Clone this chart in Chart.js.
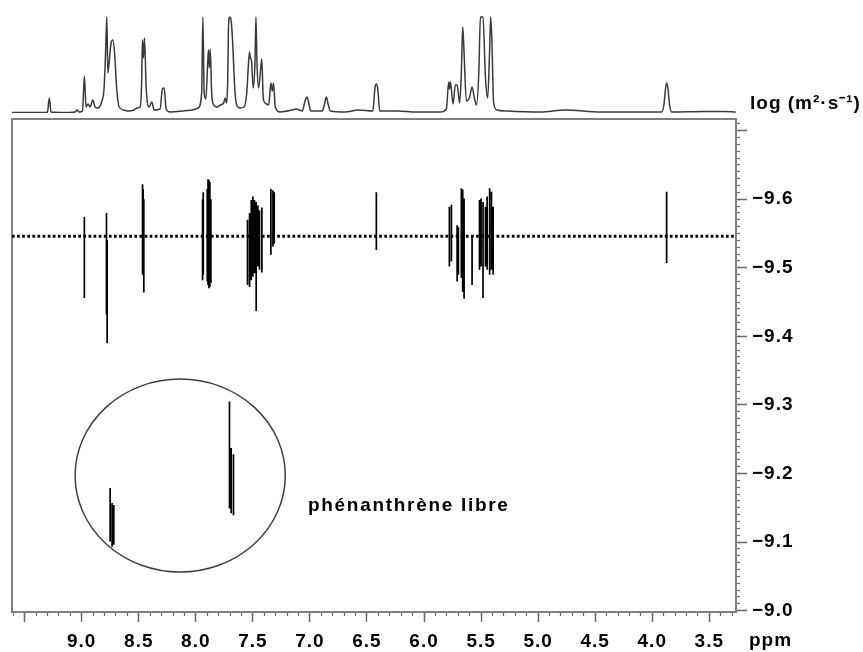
<!DOCTYPE html>
<html>
<head>
<meta charset="utf-8">
<script src="https://cdn.jsdelivr.net/npm/chart.js@4"></script>
<style>
  html, body { margin: 0; padding: 0; background: #fff; }
  #wrap { position: relative; width: 863px; height: 652px; }
  #dosy, #spec { position: absolute; left: 0; top: 0; }
</style>
</head>
<body>
<div id="wrap">
  <canvas id="dosy" width="863" height="652"></canvas>
  <canvas id="spec" width="863" height="118"></canvas>
</div>
<script>
// ---- 1H projection: chemical shift (ppm) and relative intensity (tall lines clipped at 96) ----
const specPpm = [
  9.611, 9.453, 9.322, 9.300, 9.284, 9.269, 9.190, 9.058, 9.041, 9.023,
  8.993, 8.977, 8.962, 8.944, 8.927, 8.903, 8.883, 8.857, 8.826, 8.804,
  8.791, 8.780, 8.771, 8.756, 8.743, 8.728, 8.712, 8.694, 8.672, 8.629,
  8.594, 8.541, 8.515, 8.488, 8.475, 8.468, 8.459, 8.450, 8.435, 8.409,
  8.386, 8.365, 8.313, 8.293, 8.278, 8.260, 8.225, 8.111, 8.032, 7.979,
  7.949, 7.938, 7.927, 7.912, 7.896, 7.889, 7.881, 7.874, 7.861, 7.848,
  7.813, 7.786, 7.756, 7.743, 7.730, 7.721, 7.713, 7.703, 7.690, 7.677,
  7.659, 7.642, 7.611, 7.576, 7.554, 7.538, 7.530, 7.522, 7.512, 7.497,
  7.482, 7.473, 7.464, 7.450, 7.431, 7.422, 7.409, 7.392, 7.361, 7.342,
  7.330, 7.319, 7.304, 7.260, 7.155, 7.120, 7.067, 7.043, 7.026, 7.012,
  6.993, 6.892, 6.874, 6.856, 6.839, 6.821, 6.690, 6.576, 6.449, 6.430,
  6.418, 6.407, 6.387, 6.234, 6.067, 5.857, 5.804, 5.784, 5.777, 5.769,
  5.746, 5.725, 5.710, 5.688, 5.673, 5.661, 5.651, 5.629, 5.603, 5.579,
  5.559, 5.541, 5.520, 5.506, 5.483, 5.462, 5.442, 5.426, 5.416, 5.406,
  5.390, 5.360, 5.272, 4.979, 4.760, 4.453, 4.190, 3.918, 3.898, 3.883,
  3.874, 3.863, 3.848, 3.830, 3.547, 3.429, 3.371, 3.269
];
const specInt = [
  0.5, 0.5, 0.5, 1, 15, 1, 0.5, 1, 3, 1,
  2, 37, 6, 9, 6, 13, 6, 5, 11, 25,
  60, 96, 40, 55, 70, 73, 60, 25, 6, 3,
  2, 3, 5, 6, 30, 73, 55, 75, 25, 6,
  11, 3, 4, 24, 25, 4, 1, 2, 3, 5,
  20, 96, 20, 14, 50, 63, 45, 64, 20, 9,
  6, 8, 10, 15, 10, 30, 88, 96, 92, 70,
  25, 8, 5, 6, 20, 50, 61, 55, 52, 25,
  50, 96, 50, 25, 45, 54, 15, 10, 8, 30,
  22, 30, 6, 1, 3, 4, 2, 12, 16, 11,
  2, 2, 8, 16, 8, 2, 1, 3, 2, 25,
  29, 25, 2, 2, 1, 1, 4, 31, 24, 31,
  9, 28, 28, 10, 40, 86, 65, 12, 15, 26,
  15, 8, 40, 96, 96, 36, 15, 60, 96, 75,
  10, 3, 2, 1, 3, 1, 1, 1, 8, 25,
  30, 25, 8, 1, 1.5, 1.5, 1.5, 1
];

// ---- DOSY contour traces: shift (ppm) and log D extent (m2/s) ----
const peakPpm = [
  8.977, 8.783, 8.777, 8.467, 8.462, 8.456,
  7.941, 7.935, 7.900, 7.893, 7.885, 7.877, 7.868,
  7.547, 7.529, 7.514, 7.500, 7.486, 7.471, 7.456, 7.442, 7.421,
  7.342, 7.324, 7.313, 6.418,
  5.778, 5.760, 5.710, 5.699, 5.673, 5.661, 5.649, 5.579,
  5.514, 5.500, 5.483, 5.462, 5.447, 5.425, 5.409, 5.394, 3.874,
  8.751, 8.734, 8.719, 7.705, 7.690, 7.670
];
const peakLogDTop = [
  -9.574, -9.580, -9.540, -9.622, -9.615, -9.600,
  -9.600, -9.610, -9.615, -9.629, -9.628, -9.625, -9.600,
  -9.570, -9.580, -9.599, -9.604, -9.599, -9.596, -9.591, -9.584, -9.588,
  -9.615, -9.613, -9.610, -9.610,
  -9.589, -9.592, -9.562, -9.559, -9.616, -9.614, -9.601, -9.545,
  -9.599, -9.601, -9.596, -9.589, -9.604, -9.616, -9.611, -9.589, -9.611,
  -9.179, -9.157, -9.154, -9.305, -9.237, -9.228
];
const peakLogDBottom = [
  -9.456, -9.432, -9.390, -9.490, -9.495, -9.464,
  -9.482, -9.490, -9.480, -9.475, -9.470, -9.472, -9.478,
  -9.475, -9.472, -9.482, -9.487, -9.492, -9.437, -9.502, -9.497, -9.493,
  -9.519, -9.531, -9.535, -9.526,
  -9.502, -9.509, -9.480, -9.490, -9.485, -9.465, -9.455, -9.475,
  -9.497, -9.502, -9.456, -9.502, -9.497, -9.490, -9.497, -9.490, -9.507,
  -9.101, -9.093, -9.096, -9.149, -9.142, -9.139
];

// horizontal guide at the complex's diffusion coefficient
const complexLogD = -9.546;

// free-phenanthrene group: ellipse and its caption
const freeCenter = [8.137, -9.197];
const freeRadius = [0.921, 0.1407];
const freeLabel = 'phénanthrène libre';
const freeLabelAt = [7.017, -9.145];

// axes
const ppmMin = 3.266, ppmMax = 9.611;
const logDMin = -9.717, logDMax = -8.998;
const xTickValues = [9.5, 9.0, 8.5, 8.0, 7.5, 7.0, 6.5, 6.0, 5.5, 5.0, 4.5, 4.0, 3.5];
const xTickLabels = ['', '9.0', '8.5', '8.0', '7.5', '7.0', '6.5', '6.0', '5.5', '5.0', '4.5', '4.0', '3.5'];
const yTickValues = [-9.7, -9.6, -9.5, -9.4, -9.3, -9.2, -9.1, -9.0];
const yTickLabels = ['', '\u22129.6', '\u22129.5', '\u22129.4', '\u22129.3', '\u22129.2', '\u22129.1', '\u22129.0'];
const xAxisTitle = 'ppm';
const yAxisTitle = 'log (m\u00B2\u00B7s\u207B\u00B9)';

const FONT = "'Liberation Sans', Arial, Helvetica, sans-serif";
const FRAME = '#7f7f7f';
const TICK = '#6a6a6a';
const TEXT_SIZE = 19;

Chart.defaults.font.family = FONT;
Chart.defaults.color = '#000';

// minor tick positions
const xMinorTicks = [];
for (let k = 96; k >= 33; k--) xMinorTicks.push(k / 10);
const yMinorTicks = [];
for (let k = -971; k <= -900; k++) yMinorTicks.push(k / 100);

// contour traces joined into one dataset, separated by gaps
const contourPoints = [];
peakPpm.forEach((p, i) => {
  contourPoints.push({ x: p, y: peakLogDTop[i] });
  contourPoints.push({ x: p, y: peakLogDBottom[i] });
  contourPoints.push({ x: p, y: null });
});

const spaced = {
  id: 'spaced',
  beforeDraw(chart) { chart.ctx.letterSpacing = '1px'; },
  afterDraw(chart) { chart.ctx.letterSpacing = '0px'; }
};

const annotate = {
  id: 'annotate',
  afterDatasetsDraw(chart) {
    const { ctx } = chart;
    const x = chart.scales.x, y = chart.scales.y;
    const cx = x.getPixelForValue(freeCenter[0]);
    const cy = y.getPixelForValue(freeCenter[1]);
    const rx = Math.abs(x.getPixelForValue(freeCenter[0] + freeRadius[0]) - cx);
    const ry = Math.abs(y.getPixelForValue(freeCenter[1] + freeRadius[1]) - cy);
    ctx.save();
    ctx.beginPath();
    ctx.ellipse(cx, cy, rx, ry, 0, 0, Math.PI * 2);
    ctx.strokeStyle = '#3f3f3f';
    ctx.lineWidth = 1.5;
    ctx.stroke();
    ctx.restore();
  },
  afterDraw(chart) {
    const { ctx, chartArea } = chart;
    const x = chart.scales.x, y = chart.scales.y;
    ctx.save();
    ctx.fillStyle = '#000';
    ctx.textBaseline = 'alphabetic';
    ctx.textAlign = 'left';
    ctx.font = 'bold ' + TEXT_SIZE + 'px ' + FONT;
    ctx.letterSpacing = '1.7px';
    ctx.fillText(freeLabel, x.getPixelForValue(freeLabelAt[0]), y.getPixelForValue(freeLabelAt[1]));
    ctx.letterSpacing = '1px';
    ctx.fillText(xAxisTitle, chartArea.right + 13, x.top + 34);
    ctx.restore();
  }
};

new Chart(document.getElementById('dosy'), {
  type: 'line',
  data: {
    datasets: [
      {
        label: 'DOSY',
        data: contourPoints,
        borderColor: '#000',
        borderWidth: 1.7,
        pointRadius: 0,
        spanGaps: false,
        tension: 0,
        xAxisID: 'x',
        yAxisID: 'y'
      },
      {
        label: 'log D',
        data: [{ x: ppmMax, y: complexLogD }, { x: ppmMin, y: complexLogD }],
        borderColor: '#000',
        borderWidth: 3,
        borderDash: [2.7, 2.4],
        borderCapStyle: 'butt',
        pointRadius: 0,
        xAxisID: 'x',
        yAxisID: 'y'
      }
    ]
  },
  options: {
    responsive: false,
    devicePixelRatio: 1,
    animation: false,
    events: [],
    layout: { padding: { left: 12, top: 119, right: 0, bottom: 0 } },
    plugins: { legend: { display: false }, tooltip: { enabled: false } },
    scales: {
      x: {
        type: 'linear', position: 'bottom', reverse: true, bounds: 'data',
        min: ppmMin, max: ppmMax, weight: 1,
        afterFit(s) { s.height = 40; },
        afterBuildTicks(s) { s.ticks = xTickValues.map(v => ({ value: v })); },
        ticks: {
          autoSkip: false, maxRotation: 0, padding: 8, color: '#000',
          font: { size: TEXT_SIZE, weight: 'bold' },
          callback: (v, i) => xTickLabels[i]
        },
        grid: { drawOnChartArea: false, drawTicks: true, tickLength: 10, tickColor: TICK, tickWidth: 1.5 },
        border: { display: true, color: FRAME, width: 2 }
      },
      xMinor: {
        type: 'linear', position: 'bottom', reverse: true, bounds: 'data',
        min: ppmMin, max: ppmMax, weight: 0,
        afterFit(s) { s.height = 0; },
        afterBuildTicks(s) { s.ticks = xMinorTicks.map(v => ({ value: v })); },
        ticks: { autoSkip: false, maxRotation: 0, callback: () => '' },
        grid: { drawOnChartArea: false, drawTicks: true, tickLength: 4, tickColor: TICK, tickWidth: 1.2 },
        border: { display: false }
      },
      xFrame: {
        type: 'linear', position: 'top', reverse: true, bounds: 'data',
        min: ppmMin, max: ppmMax,
        afterFit(s) { s.height = 0; },
        ticks: { display: false },
        grid: { drawOnChartArea: false, drawTicks: false },
        border: { display: true, color: FRAME, width: 2 }
      },
      y: {
        type: 'linear', position: 'right', reverse: true, bounds: 'data',
        min: logDMin, max: logDMax, weight: 1,
        afterFit(s) { s.width = 127; },
        afterBuildTicks(s) { s.ticks = yTickValues.map(v => ({ value: v })); },
        ticks: {
          autoSkip: false, padding: 5, color: '#000',
          font: { size: TEXT_SIZE, weight: 'bold' },
          callback: (v, i) => yTickLabels[i]
        },
        grid: { drawOnChartArea: false, drawTicks: true, tickLength: 11, tickColor: TICK, tickWidth: 1.5 },
        border: { display: true, color: FRAME, width: 2 }
      },
      yMinor: {
        type: 'linear', position: 'right', reverse: true, bounds: 'data',
        min: logDMin, max: logDMax, weight: 0,
        afterFit(s) { s.width = 0; },
        afterBuildTicks(s) { s.ticks = yMinorTicks.map(v => ({ value: v })); },
        ticks: { autoSkip: false, callback: () => '' },
        grid: { drawOnChartArea: false, drawTicks: true, tickLength: 4, tickColor: TICK, tickWidth: 1.2 },
        border: { display: false }
      },
      yFrame: {
        type: 'linear', position: 'left', reverse: true, bounds: 'data',
        min: logDMin, max: logDMax,
        afterFit(s) { s.width = 0; },
        ticks: { display: false },
        grid: { drawOnChartArea: false, drawTicks: false },
        border: { display: true, color: FRAME, width: 2 }
      }
    }
  },
  plugins: [spaced, annotate]
});

// projection label drawn beside the 1D trace
const specTitle = {
  id: 'specTitle',
  afterDraw(chart) {
    const { ctx, chartArea } = chart;
    ctx.save();
    ctx.fillStyle = '#000';
    ctx.font = 'bold ' + TEXT_SIZE + 'px ' + FONT;
    ctx.letterSpacing = '1px';
    ctx.textBaseline = 'alphabetic';
    ctx.textAlign = 'left';
    ctx.fillText(yAxisTitle, chartArea.right + 14, chartArea.bottom - 4);
    ctx.restore();
  }
};

new Chart(document.getElementById('spec'), {
  type: 'line',
  data: {
    datasets: [{
      label: '1H',
      data: specPpm.map((p, i) => ({ x: p, y: specInt[i] })),
      borderColor: '#3a3a3a',
      borderWidth: 1.5,
      pointRadius: 0,
      cubicInterpolationMode: 'monotone'
    }]
  },
  options: {
    responsive: false,
    devicePixelRatio: 1,
    animation: false,
    events: [],
    layout: { padding: { left: 12, right: 127, top: 13, bottom: 5 } },
    plugins: { legend: { display: false }, tooltip: { enabled: false } },
    scales: {
      x: { type: 'linear', display: false, reverse: true, min: ppmMin, max: ppmMax },
      y: { type: 'linear', display: false, min: 0, max: 100 }
    }
  },
  plugins: [specTitle]
});
</script>
</body>
</html>
